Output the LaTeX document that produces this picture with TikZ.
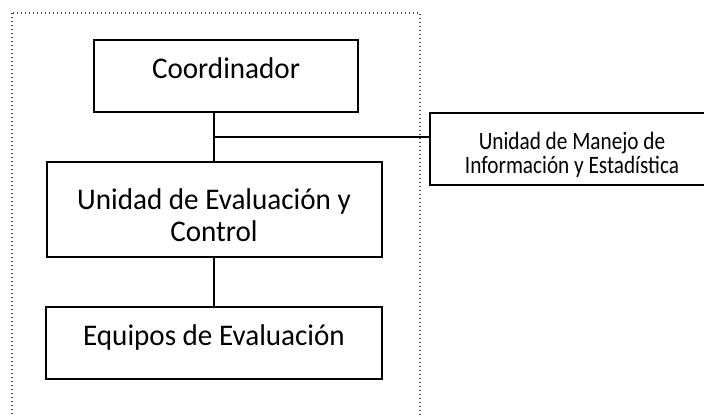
\documentclass[tikz,border=0pt]{standalone}
\usepackage{fontspec}
\setmainfont{Carlito}[FakeStretch=0.97]
\newfontfamily\smallfont{Carlito}[FakeStretch=0.85]
\usetikzlibrary{positioning, calc}
\colorlet{drawColor}{black}
\colorlet{frameColor}{black!70}
\tikzstyle{unit}=[rectangle, align=center, draw=drawColor, line width=2pt,
fill=white, inner sep=0pt, font=\fontsize{30}{31.5}\selectfont,
text height=21pt, text depth=17pt]
\tikzstyle{unitSmall}=[unit, font=\smallfont\fontsize{25}{24}\selectfont,
text height=48pt, text depth=0pt]
\tikzstyle{link}=[line width=2pt, draw=drawColor]
\tikzstyle{frame}=[draw=frameColor, line width=1.1pt, dash pattern=on 1pt off 3pt]

\begin{document}
\begin{tikzpicture}[x=1pt, y=1pt, node distance=48pt]
      \useasboundingbox (0,0) rectangle (704,-416);
      \draw [frame] (12,-13) rectangle (420,-440);
      \node(eval) [unit, minimum width=335pt, minimum height=95pt,
        text height=63pt, text depth=0pt]
        at (214,-209.5) {Unidad de Evaluación y\\Control};
      \node(coord) [unit, minimum width=264pt, minimum height=72pt,
        above=of eval, xshift=12pt] {Coordinador};
      \node(teams) [unit, minimum width=336pt, minimum height=72pt,
        below=of eval] {Equipos de Evaluación};
      \node(info) [unitSmall, minimum width=284pt, minimum height=72pt]
        at (572,-149) {Unidad de Manejo de\\Información y Estadística};
      \coordinate(junc) at ($(coord.south -| eval.north)!0.5!(eval.north)$);
      \draw [link] (coord.south -| eval.north) -- (eval.north);
      \draw [link] (junc) -- (junc -| info.west);
      \draw [link] (eval.south) -- (teams.north);
    \end{tikzpicture}
\end{document}
